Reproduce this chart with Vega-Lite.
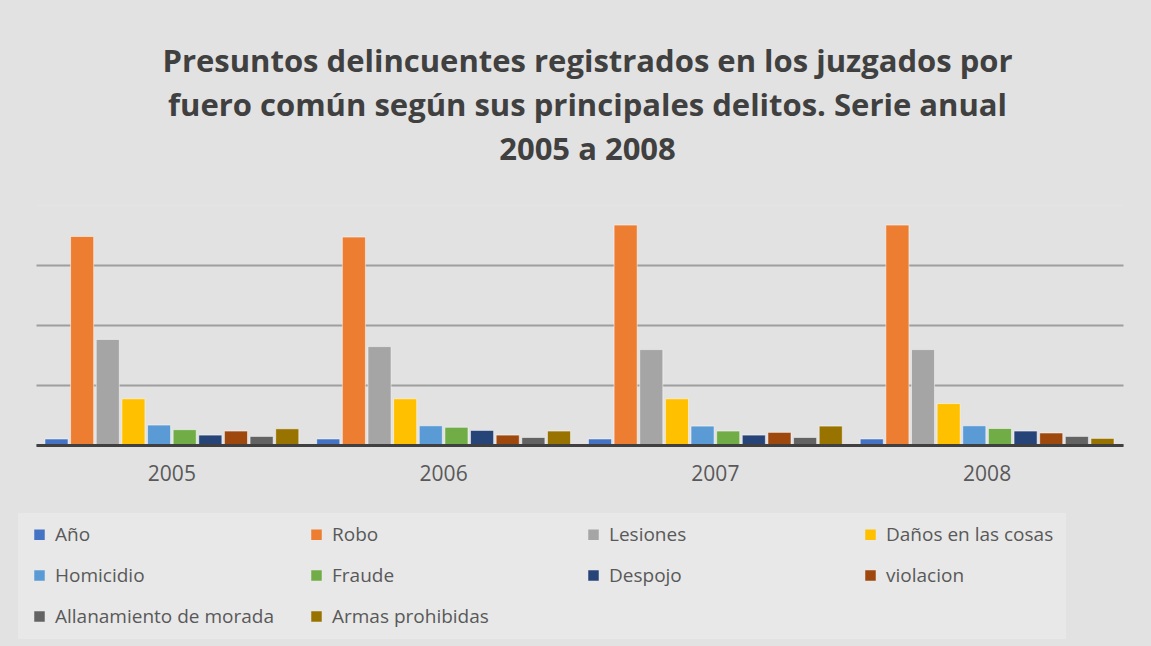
{
  "$schema": "https://vega.github.io/schema/vega-lite/v6.json",
  "autosize": {"type": "none"},
  "width": 1087,
  "height": 240,
  "padding": {"left": 36, "top": 205, "right": 28, "bottom": 201},
  "background": "#e2e2e2",
  "title": {
    "text": ["Presuntos delincuentes registrados en los juzgados por", "fuero común según sus principales delitos. Serie anual", "2005 a 2008"],
    "font": "Open Sans",
    "fontWeight": "bold",
    "fontSize": 31,
    "lineHeight": 44,
    "color": "#404040",
    "anchor": "middle",
    "dx": 8,
    "offset": 38
  },
  "data": {
    "values": [
      {"year": "2005", "serie": "Año", "value": 2005},
      {"year": "2005", "serie": "Robo", "value": 69500},
      {"year": "2005", "serie": "Lesiones", "value": 35200},
      {"year": "2005", "serie": "Daños en las cosas", "value": 15400},
      {"year": "2005", "serie": "Homicidio", "value": 6650},
      {"year": "2005", "serie": "Fraude", "value": 5100},
      {"year": "2005", "serie": "Despojo", "value": 3300},
      {"year": "2005", "serie": "violacion", "value": 4650},
      {"year": "2005", "serie": "Allanamiento de morada", "value": 2850},
      {"year": "2005", "serie": "Armas prohibidas", "value": 5400},
      {"year": "2006", "serie": "Año", "value": 2006},
      {"year": "2006", "serie": "Robo", "value": 69300},
      {"year": "2006", "serie": "Lesiones", "value": 32800},
      {"year": "2006", "serie": "Daños en las cosas", "value": 15400},
      {"year": "2006", "serie": "Homicidio", "value": 6400},
      {"year": "2006", "serie": "Fraude", "value": 5900},
      {"year": "2006", "serie": "Despojo", "value": 4850},
      {"year": "2006", "serie": "violacion", "value": 3300},
      {"year": "2006", "serie": "Allanamiento de morada", "value": 2500},
      {"year": "2006", "serie": "Armas prohibidas", "value": 4650},
      {"year": "2007", "serie": "Año", "value": 2007},
      {"year": "2007", "serie": "Robo", "value": 73300},
      {"year": "2007", "serie": "Lesiones", "value": 31800},
      {"year": "2007", "serie": "Daños en las cosas", "value": 15400},
      {"year": "2007", "serie": "Homicidio", "value": 6300},
      {"year": "2007", "serie": "Fraude", "value": 4650},
      {"year": "2007", "serie": "Despojo", "value": 3300},
      {"year": "2007", "serie": "violacion", "value": 4200},
      {"year": "2007", "serie": "Allanamiento de morada", "value": 2500},
      {"year": "2007", "serie": "Armas prohibidas", "value": 6300},
      {"year": "2008", "serie": "Año", "value": 2008},
      {"year": "2008", "serie": "Robo", "value": 73300},
      {"year": "2008", "serie": "Lesiones", "value": 31800},
      {"year": "2008", "serie": "Daños en las cosas", "value": 13800},
      {"year": "2008", "serie": "Homicidio", "value": 6400},
      {"year": "2008", "serie": "Fraude", "value": 5500},
      {"year": "2008", "serie": "Despojo", "value": 4650},
      {"year": "2008", "serie": "violacion", "value": 4000},
      {"year": "2008", "serie": "Allanamiento de morada", "value": 2850},
      {"year": "2008", "serie": "Armas prohibidas", "value": 2200}
    ]
  },
  "mark": {"type": "bar", "stroke": "#ffffff", "strokeOpacity": 0.5, "strokeWidth": 1},
  "encoding": {
    "x": {
      "field": "year",
      "type": "nominal",
      "title": null,
      "scale": {"paddingInner": 0.066, "paddingOuter": 0.033},
      "axis": {
        "labelAngle": 0,
        "labelFont": "Open Sans",
        "labelFontSize": 21,
        "labelColor": "#595959",
        "labelPadding": 18,
        "ticks": false,
        "domainColor": "#404040",
        "domainWidth": 3,
        "grid": false,
        "zindex": 1
      }
    },
    "xOffset": {
      "field": "serie",
      "type": "nominal",
      "sort": ["Año", "Robo", "Lesiones", "Daños en las cosas", "Homicidio", "Fraude", "Despojo", "violacion", "Allanamiento de morada", "Armas prohibidas"],
      "scale": {"paddingInner": 0.1}
    },
    "y": {
      "field": "value",
      "type": "quantitative",
      "title": null,
      "scale": {"domain": [0, 80000], "nice": false},
      "axis": {
        "values": [0, 20000, 40000, 60000, 80000],
        "labels": false,
        "ticks": false,
        "domain": false,
        "grid": true,
        "gridColor": {"condition": {"test": "datum.value === 80000", "value": "#e4e4e4"}, "value": "#9e9e9e"},
        "gridWidth": 2
      }
    },
    "color": {
      "field": "serie",
      "type": "nominal",
      "title": null,
      "scale": {
        "domain": ["Año", "Robo", "Lesiones", "Daños en las cosas", "Homicidio", "Fraude", "Despojo", "violacion", "Allanamiento de morada", "Armas prohibidas"],
        "range": ["#4472C4", "#ED7D31", "#A5A5A5", "#FFC000", "#5B9BD5", "#70AD47", "#264478", "#9E480E", "#636363", "#997300"]
      },
      "legend": {
        "orient": "none",
        "direction": "horizontal",
        "legendX": -18,
        "legendY": 308,
        "columns": 4,
        "gridAlign": "all",
        "columnPadding": 33,
        "rowPadding": 21,
        "padding": 12,
        "fillColor": "rgba(255,255,255,0.22)",
        "symbolType": "square",
        "symbolSize": 110,
        "symbolStrokeWidth": 0,
        "labelFont": "Open Sans",
        "labelFontSize": 19,
        "labelColor": "#595959",
        "labelOffset": 6,
        "labelLimit": 400
      }
    }
  },
  "config": {
    "view": {"stroke": null}
  }
}
